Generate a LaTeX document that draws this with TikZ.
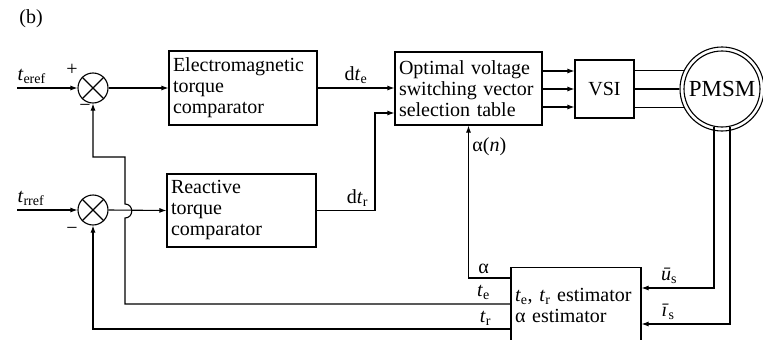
\documentclass[tikz,border=0pt]{standalone}
\usepackage{fontspec}
\setmainfont{Liberation Serif}
\usetikzlibrary{arrows.meta,calc,positioning}

\newcommand{\tsig}[1]{\textit{t}\textsubscript{#1}}

\begin{document}
\begin{tikzpicture}[
  x=1pt,y=-1pt,
  font=\fontsize{20}{21}\selectfont,
  wire/.style={line width=1.1pt},
  sig/.style={wire,-{Latex[length=7pt,width=5pt]}},
  block/.style={draw,line width=1.1pt,align=left,inner xsep=4pt,inner ysep=3pt},
  summer/.style={draw,circle,line width=1.1pt,minimum size=30pt,inner sep=0pt},
  ring/.style={draw,circle,line width=1.1pt,inner sep=0pt}
]
  \useasboundingbox (0,0) rectangle (763,340);
  \node (tag) at (31,19) {(b)};

  % summing points and blocks
  \node[summer] (s1) at (93,88) {};
  \node[summer] (s2) at (93,210) {};
  \foreach \s in {s1,s2} {
    \draw[wire] (\s.north west) -- (\s.south east);
    \draw[wire] (\s.north east) -- (\s.south west);
  }
  \node (plus1) at (72,70) {+};
  \node (minus1) at (85,108) {−};
  \node (minus2) at (72,231) {−};

  \node[block,text width=140pt,minimum height=74pt] (emc) at (243,88) {Electromagnetic\\torque\\comparator};
  \node[block,text width=141pt,minimum height=73pt] (rtc) at (241.5,210.5) {Reactive\\torque\\comparator};
  \node[block,text width=139pt,minimum height=73pt] (opt) at (468.5,88.5) {Optimal voltage\\switching vector\\selection table};
  \node[block,align=center,minimum width=59pt,minimum height=58pt] (vsi) at (604.5,89) {VSI};
  \node[ring,minimum size=76pt,font=\fontsize{23}{24}\selectfont] (pmsm) at (722,89) {PMSM};
  \node[ring,minimum size=84pt] (stator) at (pmsm.center) {};
  \node[block,text width=122pt,minimum height=75pt] (est) at (576,305) {\tsig{e}, \tsig{r} estimator\\α estimator};

  % references
  \coordinate (teref) at (17,88);
  \coordinate (trref) at (17,210);
  \draw[sig] (teref) -- node[above right,pos=0,inner xsep=0pt] {\tsig{eref}} (s1.west);
  \draw[sig] (trref) -- node[above right,pos=0,inner xsep=0pt] {\tsig{rref}} (s2.west);
  \draw[sig] (s1.east) -- (emc.west);
  \draw[sig] (s2.east) -- (rtc.west);

  % comparators to table
  \draw[sig] (emc.east) -- node[above] {d\tsig{e}} (emc.east -| opt.west);
  \draw[sig] (rtc.east) -- node[above,pos=0.7] {d\tsig{r}} (rtc.east -| 375,0) |- (opt.west |- 0,113);

  % table to inverter to motor
  \foreach \dy in {-18,0,18}
    \draw[sig] ($(opt.east |- vsi.west)+(0,\dy)$) -- ($(vsi.west)+(0,\dy)$);
  \foreach \a in {154,180,206}
    \draw[wire] (vsi.east |- stator.\a) -- (stator.\a);

  % measurements
  \draw[sig] (pmsm.258) |- node[above,pos=0.81] {\textit{ū}\textsubscript{s}} (est.east |- 0,288);
  \draw[sig] (pmsm.282) |- node[above,pos=0.85] {\textit{ī}\textsubscript{s}} (est.east |- 0,324);

  % estimator outputs
  \draw[sig] (est.west |- 0,278) -| node[above,pos=0.32] {α} node[right,pos=0.93] {α(\textit{n})} (opt.south);
  \draw[sig] (est.west |- 0,304) -- node[above,pos=0.07] {\tsig{e}} (125,304) -- (125,218)
    .. controls +(9,0) and +(9,0) .. (125,204) -- (125,157) -| (s1.south);
  \draw[sig] (est.west |- 0,329) -| node[above,pos=0.03] {\tsig{r}} (s2.south);
\end{tikzpicture}
\end{document}
